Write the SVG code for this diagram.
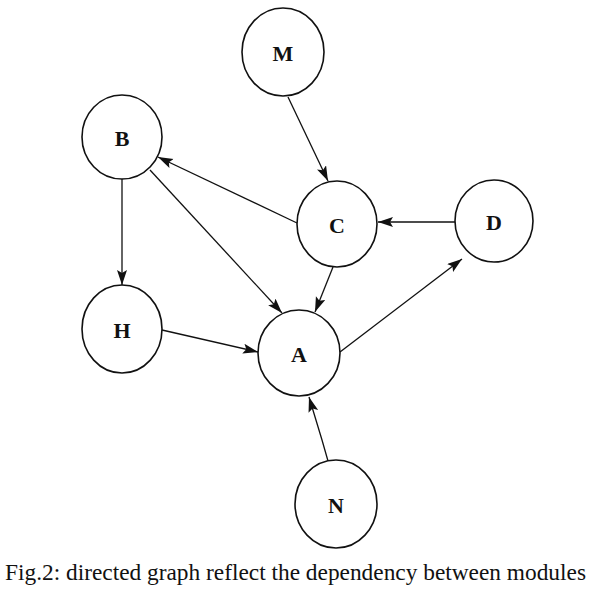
<svg xmlns="http://www.w3.org/2000/svg" width="599" height="595" viewBox="0 0 599 595">
<style>
.node ellipse{fill:#fff;stroke:#111;stroke-width:1.6}
.node text{font-family:"Liberation Serif",serif;font-size:22px;font-weight:bold;fill:#111;text-anchor:middle;dominant-baseline:central}
.edges line,.edges path{stroke:#111;stroke-width:1.3;fill:none}
.cap{font-family:"Liberation Serif",serif;font-size:22.5px;fill:#111}
</style>
<defs>
<marker id="ah" markerUnits="userSpaceOnUse" markerWidth="16" markerHeight="12" refX="15" refY="5" orient="auto">
<path d="M0,0 L15,5 L0,10 L3,5 Z" fill="#111"/>
</marker>
</defs>
<rect width="599" height="595" fill="#fff"/>
<g class="edges">
<line x1="288" y1="97" x2="328" y2="181" marker-end="url(#ah)"/>
<line x1="297" y1="223" x2="158" y2="157" marker-end="url(#ah)"/>
<line x1="122" y1="179" x2="122" y2="285" marker-end="url(#ah)"/>
<line x1="150" y1="170" x2="282" y2="313" marker-end="url(#ah)"/>
<line x1="333" y1="267" x2="315" y2="312" marker-end="url(#ah)"/>
<line x1="456" y1="222" x2="378" y2="222" marker-end="url(#ah)"/>
<line x1="162" y1="330" x2="258" y2="352" marker-end="url(#ah)"/>
<line x1="340" y1="352" x2="462" y2="259" marker-end="url(#ah)"/>
<path d="M328,461 L322,440 L309,397" marker-end="url(#ah)"/>
</g>
<g id="M" class="node"><ellipse cx="283" cy="52" rx="41" ry="44"/><text x="283" y="53">M</text></g>
<g id="B" class="node"><ellipse cx="122" cy="137" rx="40" ry="42"/><text x="122" y="138">B</text></g>
<g id="C" class="node"><ellipse cx="337" cy="224" rx="40" ry="43"/><text x="337" y="225">C</text></g>
<g id="D" class="node"><ellipse cx="494" cy="221" rx="39" ry="41"/><text x="494" y="222">D</text></g>
<g id="H" class="node"><ellipse cx="122" cy="329" rx="40" ry="44"/><text x="122" y="330">H</text></g>
<g id="A" class="node"><ellipse cx="299" cy="353" rx="41" ry="43"/><text x="299" y="354">A</text></g>
<g id="N" class="node"><ellipse cx="336" cy="504" rx="41" ry="44"/><text x="336" y="505">N</text></g>
<text class="cap" x="5" y="580" textLength="581" lengthAdjust="spacingAndGlyphs">Fig.2: directed graph reflect the dependency between modules</text>
</svg>
